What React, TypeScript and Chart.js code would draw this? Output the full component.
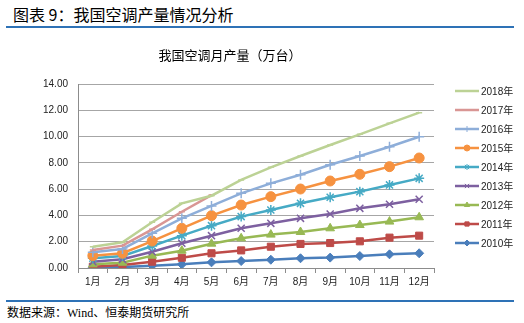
import React, { useEffect, useRef } from "react";
import { Chart, registerables } from "chart.js";
import { drawPoint } from "chart.js/helpers";

Chart.register(...registerables);

const months = ["1月", "2月", "3月", "4月", "5月", "6月", "7月", "8月", "9月", "10月", "11月", "12月"];
const yTicks = [0, 2, 4, 6, 8, 10, 12, 14];

const s2010 = [0.03, 0.07, 0.18, 0.28, 0.43, 0.53, 0.63, 0.74, 0.79, 0.91, 1.04, 1.12];
const s2011 = [0.1, 0.23, 0.48, 0.78, 1.12, 1.34, 1.62, 1.83, 1.9, 2.03, 2.31, 2.46];
const s2012 = [0.28, 0.4, 0.94, 1.32, 1.85, 2.26, 2.54, 2.74, 3.02, 3.27, 3.53, 3.86];
const s2013 = [0.48, 0.66, 1.24, 1.88, 2.46, 3.02, 3.4, 3.78, 4.11, 4.54, 4.85, 5.23];
const s2014 = [0.74, 0.91, 1.67, 2.46, 3.22, 3.91, 4.41, 4.92, 5.38, 5.81, 6.32, 6.82];
const s2015 = [0.94, 1.12, 2.05, 3.02, 3.98, 4.79, 5.43, 6.01, 6.62, 7.13, 7.71, 8.37];
const s2016 = [1.19, 1.45, 2.64, 3.78, 4.72, 5.68, 6.44, 7.1, 7.86, 8.52, 9.23, 9.99];
const s2017 = [1.37, 1.7, 2.94, 4.28, 5.55, null, null, null, null, null, null, null];
const s2018 = [1.62, 1.96, 3.48, 4.92, 5.5, 6.7, 7.66, 8.52, 9.36, 10.17, 11.01, 11.82];

const seriesNames = ["2010年", "2011年", "2012年", "2013年", "2014年", "2015年", "2016年", "2017年", "2018年"];
const seriesData = [s2010, s2011, s2012, s2013, s2014, s2015, s2016, s2017, s2018];
const seriesColors = ["#4a7ebb", "#be4b48", "#98b954", "#7d60a0", "#46aac5", "#f69240", "#8eaed9", "#d99694", "#bcd295"];
const seriesMarkers = ["rectRot", "rect", "triangle", "crossRot", "star", "circle", "cross", "line", "line"];
const markerSizes = [4.5, 5, 5, 5, 5, 5, 5, 3, 3];

const chartTitle = "我国空调月产量（万台）";

const overlayPlugin = {
  id: "overlay",
  afterDraw(chart: any) {
    const ctx = chart.ctx;
    ctx.save();
    ctx.fillStyle = "#000";
    ctx.font = '13px "Noto Sans CJK SC", sans-serif';
    ctx.textAlign = "center";
    ctx.textBaseline = "middle";
    ctx.fillText(chartTitle, 230, 15);
    // legend
    const ds = chart.data.datasets;
    ctx.font = '10px "Liberation Sans", "Noto Sans CJK SC", sans-serif';
    ctx.textAlign = "left";
    for (let k = 0; k < ds.length; k++) {
      const d = ds[ds.length - 1 - k];
      const y = 51 + k * 19;
      ctx.strokeStyle = d.borderColor;
      ctx.lineWidth = 2.5;
      ctx.beginPath();
      ctx.moveTo(455, y);
      ctx.lineTo(479, y);
      ctx.stroke();
      ctx.fillStyle = d.borderColor;
      ctx.strokeStyle = d.borderColor;
      ctx.lineWidth = 1;
      drawPoint(ctx, { pointStyle: d.pointStyle, radius: 3, borderWidth: 1, rotation: 0 }, 467, y);
      ctx.fillStyle = "#222";
      ctx.fillText(d.label, 481, y + 1);
    }
    ctx.restore();
  },
};

function ChartView() {
  const ref = useRef<HTMLCanvasElement | null>(null);
  useEffect(() => {
    if (!ref.current) return;
    const datasets = seriesNames.map((name, i) => ({
      label: name,
      data: seriesData[i],
      borderColor: seriesColors[i],
      backgroundColor: seriesColors[i],
      pointBackgroundColor: seriesColors[i],
      pointBorderColor: seriesColors[i],
      pointStyle: seriesMarkers[i],
      pointRadius: markerSizes[i],
      pointBorderWidth: seriesMarkers[i] === "star" || seriesMarkers[i] === "crossRot" || seriesMarkers[i] === "cross" || seriesMarkers[i] === "line" ? 1.5 : 1,
      borderWidth: 2.5,
      tension: 0,
      spanGaps: false,
      order: 9 - i,
    }));
    const chart = new Chart(ref.current, {
      type: "line",
      data: { labels: months, datasets },
      plugins: [overlayPlugin],
      options: {
        responsive: false,
        animation: false,
        devicePixelRatio: 1,
        layout: { padding: { top: 44, right: 90, left: 0, bottom: 0 } },
        plugins: { legend: { display: false }, title: { display: false }, tooltip: { enabled: false } },
        scales: {
          x: {
            offset: true,
            grid: { display: true, drawOnChartArea: false, drawTicks: true, tickLength: 5, offset: true, color: "#8c8c8c" },
            border: { color: "#8c8c8c", width: 1 },
            ticks: { color: "#222", font: { size: 10, family: '"Liberation Sans", "Noto Sans CJK SC", sans-serif' }, padding: 3, maxRotation: 0, autoSkip: false },
            afterFit: (s: any) => { s.height = 27; },
          },
          y: {
            min: 0,
            max: 14,
            afterBuildTicks: (s: any) => { s.ticks = yTicks.map((v) => ({ value: v })); },
            grid: { color: "#a6a6a6", drawTicks: false, lineWidth: 1 },
            border: { color: "#8c8c8c", width: 1 },
            ticks: {
              color: "#222",
              padding: 10,
              font: { size: 10, family: '"Liberation Sans", sans-serif' },
              callback: (v: any) => Number(v).toFixed(2),
            },
            afterFit: (s: any) => { s.width = 78; },
          },
        },
      } as any,
    });
    return () => chart.destroy();
  }, []);
  return (
    <canvas
      ref={ref}
      width={524}
      height={255}
      style={{ position: "absolute", left: 0, top: 40, width: 524, height: 255 }}
    />
  );
}

export default function App() {
  return (
    <div style={{ position: "absolute", left: 0, top: 0, width: 524, height: 323, background: "#fff", overflow: "hidden" }}>
      <div
        style={{
          position: "absolute",
          left: 13,
          top: 4,
          fontSize: 16,
          lineHeight: "20px",
          fontFamily: '"Noto Sans CJK SC", sans-serif',
          color: "#000",
          whiteSpace: "nowrap",
        }}
      >
        图表 9：我国空调产量情况分析
      </div>
      <div style={{ position: "absolute", left: 6, top: 26, width: 508, height: 2, background: "#2e72b6" }} />
      <ChartView />
      <div style={{ position: "absolute", left: 6, top: 300, width: 508, height: 2, background: "#2e72b6" }} />
      <div
        style={{
          position: "absolute",
          left: 7,
          top: 305,
          fontSize: 12,
          lineHeight: "16px",
          fontFamily: '"Liberation Serif", "Noto Sans CJK SC", serif',
          color: "#000",
          whiteSpace: "nowrap",
        }}
      >
        数据来源：Wind、恒泰期货研究所
      </div>
    </div>
  );
}
